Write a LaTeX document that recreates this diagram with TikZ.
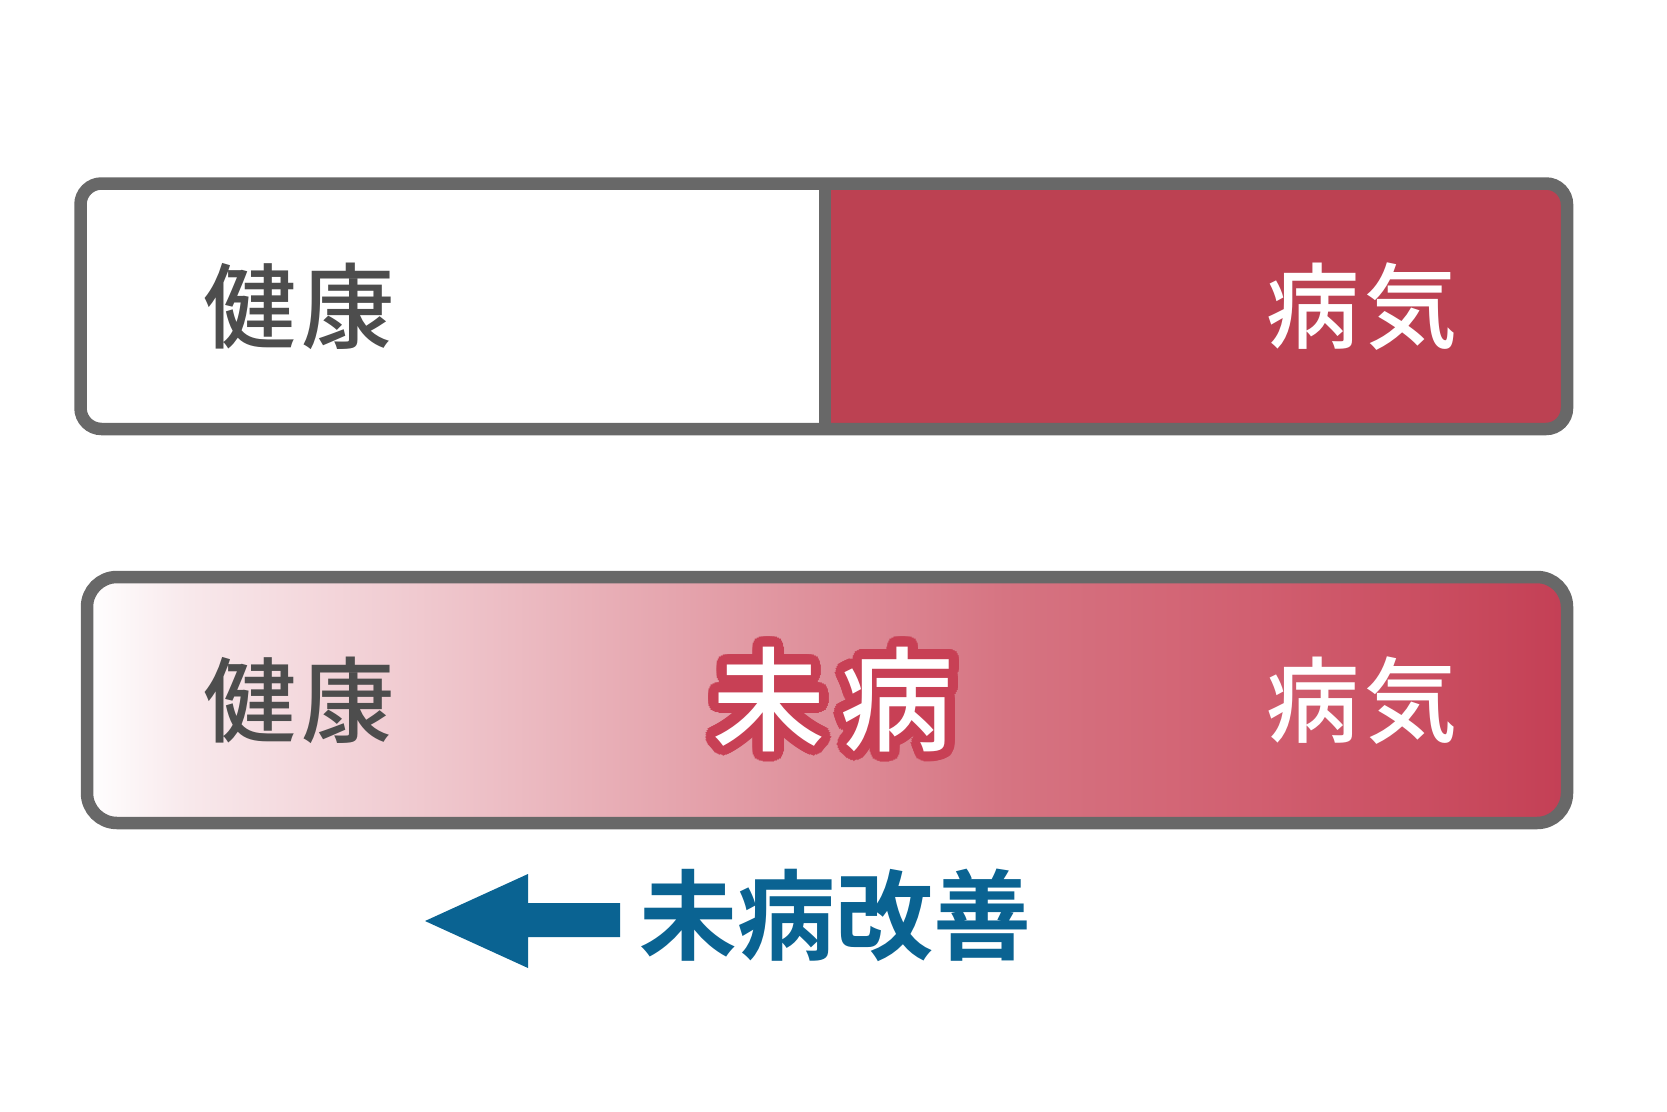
\documentclass[tikz,border=0pt]{standalone}
\usepackage{fontspec}
\newfontfamily\jpmed{Noto Sans CJK JP Medium}
\newfontfamily\jpbold{Noto Sans CJK JP Bold}
\definecolor{bordergray}{HTML}{686868}
\definecolor{sickred}{HTML}{BC4152}
\definecolor{textgray}{HTML}{4D4D4D}
\definecolor{outred}{HTML}{C84055}
\definecolor{arrowblue}{HTML}{0A6392}
\definecolor{gA}{HTML}{F8E8EB}
\definecolor{gB}{HTML}{F0CAD0}
\definecolor{gC}{HTML}{E5A4AD}
\definecolor{gD}{HTML}{D67482}
\definecolor{gE}{HTML}{D15F70}
\definecolor{gF}{HTML}{C7475B}
\definecolor{gG}{HTML}{C43F55}
\pgfdeclarehorizontalshading{mibyo}{100bp}{color(0bp)=(white); color(25bp)=(white); color(28.5bp)=(gA); color(36bp)=(gB); color(45bp)=(gC); color(56bp)=(gD); color(64.5bp)=(gE); color(72.5bp)=(gF); color(75bp)=(gG); color(100bp)=(gG)}
\tikzset{
  barline/.style={draw=bordergray, line width=12.5pt},
  lbl/.style={inner sep=0pt, anchor=base, font=\jpmed\fontsize{93}{93}\selectfont},
  big/.style={inner sep=0pt, anchor=base, font=\jpmed\fontsize{113}{113}\selectfont},
  improve/.style={inner sep=0pt, anchor=base, font=\jpbold\fontsize{98}{98}\selectfont, text=arrowblue}
}
\newcommand{\pairgap}{\hspace{6pt}}
\newcommand{\biggap}{\hspace{16pt}}
\begin{document}
\begin{tikzpicture}[x=1pt, y=-1pt]
\useasboundingbox (0,0) rectangle (1667,1111);
% top bar
\coordinate (t1) at (80.5,183.5);
\coordinate (t2) at (1567,429);
\coordinate (dTop) at (825,183.5);
\coordinate (dBot) at (825,429);
\fill[white, rounded corners=21] (t1) rectangle (t2);
\begin{scope}
  \clip[rounded corners=21] (t1) rectangle (t2);
  \fill[sickred] (825,150) rectangle (1600,460);
\end{scope}
\draw[barline] (dTop) -- (dBot);
\draw[barline, rounded corners=21] (t1) rectangle (t2);
\node[lbl, text=textgray] (health1) at (299,341) {健\pairgap 康};
\node[lbl, text=white] (sick1) at (1362,341) {病\pairgap 気};
% bottom bar
\coordinate (b1) at (87,577);
\coordinate (b2) at (1567,823);
\shade[shading=mibyo, rounded corners=30] (b1) rectangle (b2);
\draw[barline, rounded corners=30] (b1) rectangle (b2);
\node[lbl, text=textgray] (health2) at (299,735) {健\pairgap 康};
\node[lbl, text=white] (sick2) at (1362,735) {病\pairgap 気};
\foreach \a [count=\i] in {0,11.25,...,349}
  \node[big, text=outred] (mbo\i) at ([shift={(\a:10)}]833,742) {未\biggap 病};
\foreach \a [count=\i] in {0,22.5,...,349}
  \node[big, text=outred] (mbi\i) at ([shift={(\a:5)}]833,742) {未\biggap 病};
\node[big, text=white] (mibyo) at (833,742) {未\biggap 病};
% arrow and label
\fill[arrowblue] (425,921) -- (528,874) -- (528,903) -- (620,903) -- (620,937) -- (528,937) -- (528,968) -- cycle;
\node[improve] (kaizen) at (835,952) {未病改善};
\end{tikzpicture}
\end{document}
